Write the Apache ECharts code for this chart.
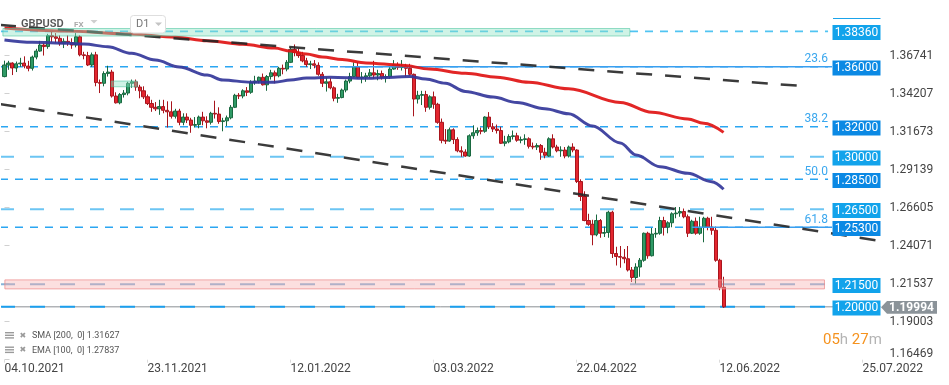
<!DOCTYPE html>
<html><head><meta charset="utf-8">
<script src="https://cdn.jsdelivr.net/npm/echarts@6/dist/echarts.min.js"></script>
<style>html,body{margin:0;padding:0;background:#fff}#c{width:949px;height:385px}</style>
</head><body><div id="c"></div>
<script>
// ---------- DATA ----------
const symbol = 'GBPUSD';
const firstDay = [2021, 9, 4];          // 04.10.2021 (month 0-based)
const totalSlots = 221;                  // daily slots incl. empty future area
const tickIdx = [0, 36, 72, 108, 144, 180, 216];
const tickLabels = ['04.10.2021','23.11.2021','12.01.2022','03.03.2022','22.04.2022','12.06.2022','25.07.2022'];
const yMin = 1.16469, yStep = 0.02534, yMax = 1.39275;

// [open, close, low, high]
const candles = [
[1.3535,1.3612,1.3530,1.3641],[1.3612,1.3625,1.3580,1.3640],[1.3625,1.3592,1.3545,1.3630],[1.3592,1.3620,1.3565,1.3635],[1.3620,1.3625,1.3600,1.3660],
[1.3625,1.3605,1.3590,1.3670],[1.3605,1.3590,1.3570,1.3640],[1.3590,1.3665,1.3575,1.3675],[1.3665,1.3705,1.3650,1.3720],[1.3705,1.3745,1.3700,1.3773],
[1.3745,1.3735,1.3675,1.3760],[1.3735,1.3808,1.3720,1.3820],[1.3808,1.3800,1.3765,1.3834],[1.3800,1.3790,1.3760,1.3825],[1.3790,1.3755,1.3740,1.3810],
[1.3755,1.3770,1.3725,1.3790],[1.3770,1.3760,1.3740,1.3810],[1.3760,1.3745,1.3720,1.3790],[1.3745,1.3800,1.3730,1.3825],[1.3800,1.3680,1.3670,1.3810],
[1.3680,1.3675,1.3650,1.3700],[1.3675,1.3612,1.3605,1.3700],[1.3612,1.3680,1.3600,1.3695],[1.3680,1.3495,1.3470,1.3700],[1.3495,1.3490,1.3425,1.3515],
[1.3490,1.3555,1.3470,1.3570],[1.3555,1.3565,1.3535,1.3607],[1.3565,1.3405,1.3395,1.3580],[1.3405,1.3360,1.3355,1.3430],[1.3360,1.3415,1.3350,1.3425],
[1.3415,1.3425,1.3395,1.3445],[1.3425,1.3490,1.3410,1.3500],[1.3490,1.3500,1.3460,1.3515],[1.3500,1.3465,1.3440,1.3515],[1.3465,1.3440,1.3390,1.3480],
[1.3440,1.3400,1.3385,1.3470],[1.3400,1.3355,1.3345,1.3415],[1.3355,1.3330,1.3300,1.3380],[1.3330,1.3320,1.3305,1.3365],[1.3320,1.3335,1.3280,1.3380],
[1.3335,1.3310,1.3290,1.3380],[1.3310,1.3300,1.3195,1.3370],[1.3300,1.3270,1.3255,1.3370],[1.3270,1.3305,1.3255,1.3320],[1.3305,1.3230,1.3210,1.3320],
[1.3230,1.3265,1.3210,1.3290],[1.3265,1.3245,1.3225,1.3290],[1.3245,1.3210,1.3160,1.3260],[1.3210,1.3215,1.3195,1.3265],[1.3215,1.3265,1.3190,1.3275],
[1.3265,1.3240,1.3210,1.3300],[1.3240,1.3230,1.3190,1.3270],[1.3230,1.3290,1.3215,1.3300],[1.3290,1.3285,1.3255,1.3374],[1.3285,1.3235,1.3220,1.3330],
[1.3235,1.3240,1.3170,1.3260],[1.3240,1.3260,1.3205,1.3275],[1.3260,1.3330,1.3250,1.3345],[1.3330,1.3410,1.3325,1.3420],[1.3410,1.3405,1.3385,1.3425],
[1.3405,1.3440,1.3390,1.3450],[1.3440,1.3430,1.3405,1.3465],[1.3430,1.3495,1.3420,1.3510],[1.3495,1.3505,1.3480,1.3540],[1.3505,1.3530,1.3490,1.3535],
[1.3530,1.3480,1.3475,1.3555],[1.3480,1.3535,1.3440,1.3545],[1.3535,1.3560,1.3515,1.3580],[1.3560,1.3540,1.3490,1.3575],[1.3540,1.3590,1.3530,1.3600],
[1.3590,1.3585,1.3550,1.3615],[1.3585,1.3630,1.3570,1.3645],[1.3630,1.3715,1.3625,1.3730],[1.3715,1.3695,1.3670,1.3749],[1.3695,1.3675,1.3660,1.3720],
[1.3675,1.3640,1.3630,1.3700],[1.3640,1.3615,1.3600,1.3660],[1.3615,1.3620,1.3585,1.3640],[1.3620,1.3610,1.3590,1.3645],[1.3610,1.3550,1.3540,1.3630],
[1.3550,1.3490,1.3465,1.3565],[1.3490,1.3500,1.3435,1.3530],[1.3500,1.3460,1.3450,1.3525],[1.3460,1.3390,1.3370,1.3470],[1.3390,1.3395,1.3360,1.3420],
[1.3395,1.3445,1.3390,1.3455],[1.3445,1.3505,1.3430,1.3515],[1.3505,1.3535,1.3490,1.3560],[1.3535,1.3600,1.3530,1.3630],[1.3600,1.3530,1.3520,1.3630],
[1.3525,1.3532,1.3490,1.3565],[1.3532,1.3540,1.3500,1.3560],[1.3540,1.3560,1.3525,1.3585],[1.3560,1.3545,1.3520,1.3640],[1.3545,1.3555,1.3510,1.3580],
[1.3555,1.3530,1.3515,1.3575],[1.3530,1.3535,1.3495,1.3550],[1.3535,1.3585,1.3520,1.3600],[1.3585,1.3615,1.3580,1.3645],[1.3615,1.3595,1.3580,1.3630],
[1.3595,1.3605,1.3575,1.3645],[1.3605,1.3590,1.3535,1.3620],[1.3590,1.3550,1.3540,1.3620],[1.3550,1.3385,1.3270,1.3555],[1.3385,1.3410,1.3355,1.3440],
[1.3410,1.3415,1.3345,1.3440],[1.3415,1.3330,1.3300,1.3440],[1.3330,1.3400,1.3315,1.3410],[1.3400,1.3350,1.3320,1.3435],[1.3350,1.3230,1.3220,1.3360],
[1.3230,1.3110,1.3090,1.3255],[1.3110,1.3105,1.3085,1.3185],[1.3105,1.3180,1.3100,1.3195],[1.3180,1.3115,1.3085,1.3190],[1.3115,1.3040,1.3030,1.3130],
[1.3040,1.3032,1.3000,1.3070],[1.3032,1.3005,1.3000,1.3050],[1.3005,1.3140,1.3000,1.3150],[1.3140,1.3160,1.3120,1.3210],[1.3160,1.3175,1.3140,1.3195],
[1.3175,1.3170,1.3150,1.3195],[1.3170,1.3265,1.3160,1.3270],[1.3265,1.3200,1.3185,1.3298],[1.3200,1.3185,1.3165,1.3225],[1.3185,1.3175,1.3155,1.3215],
[1.3175,1.3090,1.3085,1.3200],[1.3090,1.3100,1.3070,1.3140],[1.3100,1.3135,1.3090,1.3150],[1.3135,1.3140,1.3115,1.3175],[1.3140,1.3110,1.3100,1.3160],
[1.3110,1.3115,1.3090,1.3135],[1.3115,1.3120,1.3080,1.3150],[1.3120,1.3070,1.3055,1.3130],[1.3070,1.3065,1.3050,1.3095],[1.3065,1.3075,1.3045,1.3090],
[1.3075,1.3030,1.2980,1.3085],[1.3030,1.3010,1.2990,1.3060],[1.3005,1.3120,1.3000,1.3130],[1.3120,1.3065,1.3055,1.3150],[1.3065,1.3040,1.3030,1.3080],
[1.3040,1.3045,1.3000,1.3070],[1.3045,1.3005,1.2990,1.3065],[1.3005,1.3065,1.2995,1.3075],[1.3065,1.3045,1.3030,1.3090],[1.3045,1.2835,1.2825,1.3050],
[1.2835,1.2735,1.2705,1.2850],[1.2735,1.2575,1.2570,1.2770],[1.2575,1.2550,1.2540,1.2620],[1.2550,1.2480,1.2410,1.2580],[1.2480,1.2575,1.2470,1.2615],
[1.2575,1.2490,1.2460,1.2585],[1.2490,1.2495,1.2465,1.2535],[1.2495,1.2630,1.2460,1.2640],[1.2630,1.2355,1.2325,1.2640],[1.2355,1.2335,1.2275,1.2400],
[1.2335,1.2330,1.2260,1.2405],[1.2330,1.2320,1.2290,1.2385],[1.2320,1.2245,1.2235,1.2405],[1.2245,1.2195,1.2165,1.2265],[1.2195,1.2265,1.2155,1.2290],
[1.2265,1.2310,1.2200,1.2325],[1.2310,1.2490,1.2300,1.2495],[1.2490,1.2340,1.2320,1.2500],[1.2340,1.2485,1.2335,1.2525],[1.2485,1.2490,1.2460,1.2525],
[1.2490,1.2575,1.2480,1.2600],[1.2575,1.2530,1.2475,1.2600],[1.2530,1.2560,1.2490,1.2570],[1.2560,1.2620,1.2530,1.2630],[1.2620,1.2625,1.2590,1.2665],
[1.2625,1.2635,1.2600,1.2665],[1.2635,1.2600,1.2590,1.2655],[1.2600,1.2490,1.2465,1.2615],[1.2490,1.2570,1.2485,1.2580],[1.2570,1.2490,1.2480,1.2595],
[1.2490,1.2530,1.2480,1.2600],[1.2530,1.2590,1.2430,1.2600],[1.2590,1.2530,1.2510,1.2600],[1.2530,1.2510,1.2480,1.2600],[1.2510,1.2310,1.2300,1.2535],
[1.2310,1.2130,1.2110,1.2320],[1.2130,1.19994,1.1992,1.2200]
];

// moving averages: [bar index, value]
const sma200 = [[0,1.3859],[15,1.3839],[32,1.3819],[43,1.3797],[51,1.3774],[60,1.3750],[68,1.3725],[72,1.3705],[76,1.3685],[80,1.3665],[85,1.3648],[91,1.3626],[100,1.3611],[107,1.3585],[116,1.3557],[124,1.3531],[132,1.3497],[142,1.3453],[155,1.3362],[163,1.3297],[172,1.3252],[176,1.3223],[181,1.31627]];
const ema100 = [[0,1.3779],[7,1.3763],[16,1.3757],[20,1.3752],[26,1.3734],[32,1.3690],[38,1.3645],[44,1.3599],[51,1.3545],[55,1.3512],[62,1.3497],[68,1.3497],[72,1.3512],[76,1.3525],[82,1.3530],[91,1.3523],[98,1.3530],[102,1.3536],[106,1.3519],[111,1.3490],[116,1.3436],[123,1.3398],[129,1.3362],[136,1.3320],[142,1.3287],[148,1.3205],[155,1.3092],[159,1.3012],[165,1.2934],[172,1.2890],[178,1.2834],[181,1.27837]];
const smaLast = 1.31627, emaLast = 1.27837;
const lastPrice = 1.19994;

const levels    = [1.3836, 1.3600, 1.3200, 1.3000, 1.2850, 1.2650, 1.2530, 1.2150, 1.2000];
const levelKind = ['top','short','short','long','short','long','short','zone','bold'];
const levelFrom = -1.13, levelTo = 207.3;
const fibValues = [1.3600, 1.3200, 1.2850, 1.2530];
const fibTexts  = ['23.6', '38.2', '50.0', '61.8'];
const fibSolidFrom = [[84.4, 1.3600], [173.0, 1.2530]];
const fibSolidTo = 208.3;
const trendLines = [
  [[-1.13, 1.3879], [202.2, 1.3469]],
  [[-1.13, 1.3352], [219.6, 1.2442]]
];
// [fromIdx, toIdx, low, high, kind]
const zones = [
  [-0.4, 157.4, 1.38054, 1.38554, 'green'],
  [26.9, 33.4, 1.3467, 1.3505, 'green'],
  [0.1, 206.4, 1.2119, 1.2179, 'red']
];
const countdown = ['05', 'h ', '27', 'm'];

// ---------- BUILD ----------
const categories = [];
{
  const d = new Date(Date.UTC(firstDay[0], firstDay[1], firstDay[2]));
  while (categories.length < totalSlots) {
    const wd = d.getUTCDay();
    if (wd !== 0 && wd !== 6) {
      const dd = String(d.getUTCDate()).padStart(2,'0'), mm = String(d.getUTCMonth()+1).padStart(2,'0');
      categories.push(dd + '.' + mm + '.' + d.getUTCFullYear());
    }
    d.setUTCDate(d.getUTCDate() + 1);
  }
}
const xMaxV = totalSlots - 0.5;
const FONT = 'Roboto, "Noto Sans", sans-serif';
const lvlStyle = {
  top:   {c:'#50c4f2', w:1.6, d:[8,7]},
  short: {c:'#2ba6f2', w:1.6, d:[8,7]},
  long:  {c:'#6cc5f3', w:2, d:[14,16]},
  zone:  {c:'#86b4da', w:2, d:[15,15]},
  bold:  {c:'#1a9fee', w:2, d:[15,15]}
};

const levelSeries = levels.map((v, i) => {
  const st = lvlStyle[levelKind[i]];
  return {
    type: 'line', xAxisIndex: 1, yAxisIndex: 0, z: 1, silent: true, symbol: 'none', animation: false,
    data: [[levelFrom, v], [levelTo, v]],
    lineStyle: {color: st.c, width: st.w, type: st.d, opacity: 1}
  };
});
const lastLine = {
  type: 'line', xAxisIndex: 1, yAxisIndex: 0, z: 0, silent: true, symbol: 'none',
  data: [[levelFrom, lastPrice], [xMaxV, lastPrice]],
  lineStyle: {color: '#8a8f94', width: 1}
};
const fibSeries = fibSolidFrom.map((f) => ({
  type: 'line', xAxisIndex: 1, yAxisIndex: 0, z: 3, silent: true, symbol: 'none',
  data: [f, [fibSolidTo, f[1]]],
  lineStyle: {color: '#3a9ff0', width: 1.5}
}));

const chart = echarts.init(document.getElementById('c'), null, {renderer:'canvas'});
const option = {
  animation: false,
  backgroundColor: '#fff',
  textStyle: {fontFamily: FONT},
  grid: {left: 2.5, right: 68.5, top: 17.7, bottom: 25.3, containLabel: false, outerBoundsMode: 'none'},
  xAxis: [{
    type: 'category', data: categories, boundaryGap: true,
    axisLine: {show: false},
    axisTick: {show: true, alignWithLabel: true, length: 3, interval: (i) => tickIdx.includes(i), lineStyle: {color: '#dcdcdc'}},
    axisLabel: {interval: (i) => tickIdx.includes(i), align: 'left', margin: 3, color: '#444', fontSize: 12, fontFamily: FONT,
      formatter: (v, i) => { const k = tickIdx.indexOf(i); return k >= 0 ? tickLabels[k] : ''; }},
    splitLine: {show: false}
  }, {
    type: 'value', min: -0.5, max: xMaxV, show: false, splitLine: {show: false}
  }],
  yAxis: [{
    type: 'value', position: 'right', min: yMin, max: yMax, interval: yStep, scale: true,
    axisLine: {show: false},
    axisTick: {show: true, length: 5, lineStyle: {color: '#d0d0d0'}},
    splitLine: {show: false},
    axisLabel: {margin: 9, color: '#444', fontSize: 12, fontFamily: FONT, showMaxLabel: false,
      formatter: (v) => Math.abs(v - yMin) < 1e-7 ? '{lo|' + v.toFixed(5) + '}' : v.toFixed(5),
      rich: {lo: {padding: [0,0,11,0], color: '#444', fontSize: 12, fontFamily: FONT}}}
  }],
  series: [
    lastLine,
    ...levelSeries,
    {
      type: 'candlestick', xAxisIndex: 0, yAxisIndex: 0, z: 2, data: candles, barWidth: 3.6,
      itemStyle: {color: '#2f9a66', color0: '#e3262f', borderColor: '#19683f', borderColor0: '#a8151d', borderWidth: 1}
    },
    ...fibSeries,
    {
      name: 'SMA', type: 'line', xAxisIndex: 1, yAxisIndex: 0, z: 4, data: sma200, symbol: 'none',
      smooth: 0.35, smoothMonotone: 'x', lineStyle: {color: '#e01414', width: 3, opacity: 0.92}, silent: true
    },
    {
      name: 'EMA', type: 'line', xAxisIndex: 1, yAxisIndex: 0, z: 4, data: ema100, symbol: 'none',
      smooth: 0.35, smoothMonotone: 'x', lineStyle: {color: '#34379a', width: 3, opacity: 0.92}, silent: true
    },
    ...trendLines.map((t) => ({
      type: 'line', xAxisIndex: 1, yAxisIndex: 0, z: 5, data: t, symbol: 'none', silent: true,
      lineStyle: {color: '#262626', width: 2.5, type: [16, 13], opacity: 0.9}
    })),
    { // zones
      type: 'custom', xAxisIndex: 1, yAxisIndex: 0, z: 6, silent: true, clip: false,
      encode: {x: [0, 1], y: [2, 3]},
      data: zones.map(z => [z[0], z[1], z[2], z[3], z[4] === 'green' ? 0 : 1]),
      renderItem: (params, api) => {
        const tl = api.coord([api.value(0), api.value(3)]), br = api.coord([api.value(1), api.value(2)]);
        const green = api.value(4) === 0;
        return {type: 'rect', shape: {x: tl[0], y: tl[1], width: br[0] - tl[0], height: br[1] - tl[1]},
          style: green ? {fill: 'rgba(140,226,196,0.42)', stroke: 'rgba(70,195,155,0.55)', lineWidth: 1}
                       : {fill: 'rgba(248,170,170,0.38)', stroke: 'rgba(236,140,140,0.75)', lineWidth: 1}};
      }
    },
    { // level price boxes + fib texts + last price tag
      type: 'custom', xAxisIndex: 1, yAxisIndex: 0, z: 10, silent: true, clip: false,
      encode: {x: 0, y: 1},
      data: levels.map((v, i) => [xMaxV, v, i]).concat([[xMaxV, lastPrice, -1]]),
      renderItem: (params, api) => {
        const v = api.value(1), k = api.value(2);
        const p = api.coord([xMaxV, v]);
        const x = p[0], y = p[1];
        if (k < 0) {
          return {type: 'group', children: [
            {type: 'polygon', shape: {points: [[x + 0.5, y + 0.5], [x + 6.5, y - 5.8], [x + 56.5, y - 5.8], [x + 56.5, y + 7], [x + 6.5, y + 7]]}, style: {fill: '#8b9399'}},
            {type: 'text', style: {x: x + 31, y: y + 0.8, text: v.toFixed(5), fill: '#fff', font: 'bold 12px ' + FONT, align: 'center', verticalAlign: 'middle'}}
          ]};
        }
        const fi = fibValues.indexOf(v);
        const isFib = fi >= 0;
        const children = [
          {type: 'rect', shape: {x: x - 48, y: y - 6.3, width: 48, height: 15}, style: {fill: isFib ? '#0b89e4' : '#12a3eb'}},
          {type: 'text', style: {x: x - 24, y: y + 1.4, text: v.toFixed(5), fill: '#fff', font: '12px ' + FONT, align: 'center', verticalAlign: 'middle'}}
        ];
        if (isFib) children.push({type: 'text', style: {x: x - 52.5, y: y - 7.5, text: fibTexts[fi], fill: '#3aa7ee', font: '12px ' + FONT, align: 'right', verticalAlign: 'middle'}});
        return {type: 'group', children};
      }
    }
  ],
  graphic: [
    {type: 'line', shape: {x1: 833, y1: 18.5, x2: 880.5, y2: 18.5}, style: {stroke: '#1aa3ea', lineWidth: 1}, z: 100},
    {type: 'text', x: 21, y: 24, style: {text: symbol, font: '600 11px ' + FONT, fill: '#555', verticalAlign: 'middle'}, z: 100},
    {type: 'text', x: 74, y: 24.5, style: {text: 'FX', font: 'bold 8px ' + FONT, fill: '#aaa', verticalAlign: 'middle'}, z: 100},
    {type: 'polygon', shape: {points: [[90.5, 20], [97.5, 20], [94, 23.5]]}, style: {fill: '#cfcfcf'}, z: 100},
    {type: 'rect', shape: {x: 130.5, y: 15.5, width: 35, height: 17.5, r: 3}, style: {fill: '#fff', stroke: '#dedede', lineWidth: 1}, z: 100},
    {type: 'text', x: 136, y: 24.5, style: {text: 'D1', font: '11px ' + FONT, fill: '#777', verticalAlign: 'middle'}, z: 101},
    {type: 'polygon', shape: {points: [[155, 22.5], [162, 22.5], [158.5, 26]]}, style: {fill: '#c4c4c4'}, z: 101},
    // legend lines
    {type: 'rect', shape: {x: 5, y: 332, width: 9, height: 1.4}, style: {fill: '#9a9a9a'}, z: 100},
    {type: 'rect', shape: {x: 5, y: 334.6, width: 9, height: 1.4}, style: {fill: '#9a9a9a'}, z: 100},
    {type: 'rect', shape: {x: 5, y: 337.2, width: 9, height: 1.4}, style: {fill: '#9a9a9a'}, z: 100},
    {type: 'text', x: 19.5, y: 335.5, style: {text: '✖', font: '8px "DejaVu Sans"', fill: '#9a9a9a', verticalAlign: 'middle'}, z: 100},
    {type: 'text', x: 32, y: 336, style: {text: 'SMA [200,  0] ' + smaLast.toFixed(5), font: '9px ' + FONT, fill: '#555', verticalAlign: 'middle'}, z: 100},
    {type: 'rect', shape: {x: 5, y: 346.5, width: 9, height: 1.4}, style: {fill: '#9a9a9a'}, z: 100},
    {type: 'rect', shape: {x: 5, y: 349.1, width: 9, height: 1.4}, style: {fill: '#9a9a9a'}, z: 100},
    {type: 'rect', shape: {x: 5, y: 351.7, width: 9, height: 1.4}, style: {fill: '#9a9a9a'}, z: 100},
    {type: 'text', x: 19.5, y: 350, style: {text: '✖', font: '8px "DejaVu Sans"', fill: '#9a9a9a', verticalAlign: 'middle'}, z: 100},
    {type: 'text', x: 32, y: 350.5, style: {text: 'EMA [100,  0] ' + emaLast.toFixed(5), font: '9px ' + FONT, fill: '#555', verticalAlign: 'middle'}, z: 100},
    // countdown
    {type: 'text', x: 823, y: 340, z: 100, style: {
      text: '{o|' + countdown[0] + '}{g|' + countdown[1] + '}{o|' + countdown[2] + '}{g|' + countdown[3] + '}',
      verticalAlign: 'middle',
      rich: {o: {fill: '#f5921e', font: '15px ' + FONT}, g: {fill: '#b4b4b4', font: '15px ' + FONT}}}}
  ]
};
chart.setOption(option);
</script>
</body></html>
